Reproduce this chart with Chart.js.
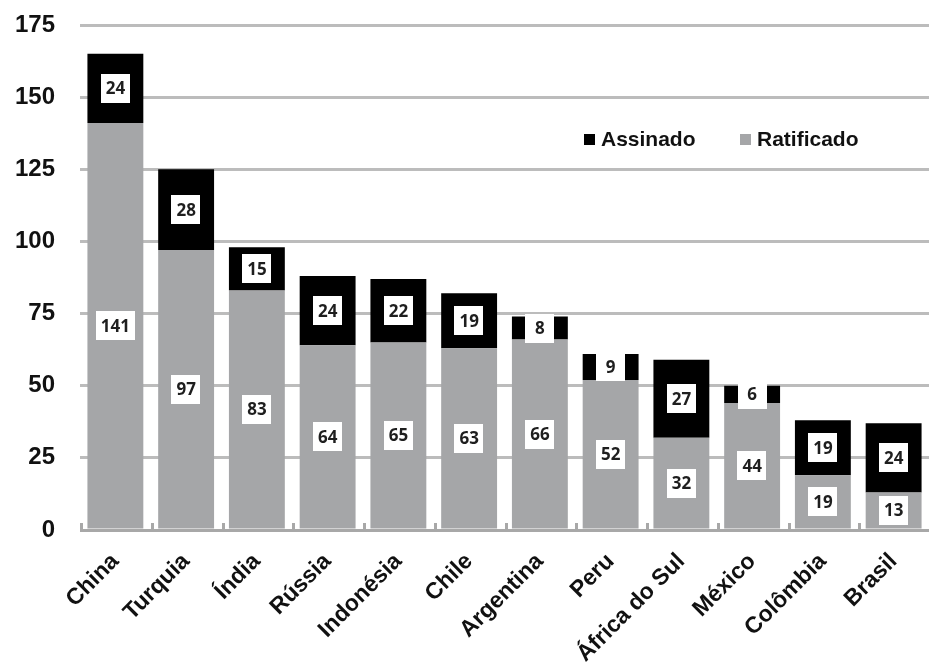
<!DOCTYPE html>
<html>
<head>
<meta charset="utf-8">
<style>
  html, body { margin: 0; padding: 0; background: #ffffff; }
  #wrap { width: 929px; height: 666px; }
</style>
<script src="https://cdn.jsdelivr.net/npm/chart.js@4/dist/chart.umd.min.js"></script>
</head>
<body>
<div id="wrap"><canvas id="c" width="929" height="666"></canvas></div>
<script>
// Countries, ordered by total number of agreements
const paises = ['China', 'Turquia', 'Índia', 'Rússia', 'Indonésia', 'Chile', 'Argentina',
                'Peru', 'África do Sul', 'México', 'Colômbia', 'Brasil'];
// Ratified agreements (bottom segment)
const ratificado = [141, 97, 83, 64, 65, 63, 66, 52, 32, 44, 19, 13];
// Signed but not ratified (top segment)
const assinado = [24, 28, 15, 24, 22, 19, 8, 9, 27, 6, 19, 24];
// Value axis
const eixoMin = 0;
const eixoMax = 175;
const eixoPasso = 25;

const CINZA = '#a5a6a8';
const PRETO = '#000000';
const GRADE = '#bcbcbc';

// White value boxes centred on each segment
const rotulosPlugin = {
  id: 'rotulos',
  afterDatasetsDraw(chart) {
    const ctx = chart.ctx;
    ctx.save();
    ctx.font = 'bold 17px "Noto Sans", "DejaVu Sans", sans-serif';
    ctx.textAlign = 'center';
    ctx.textBaseline = 'middle';
    chart.data.datasets.forEach((ds, di) => {
      const meta = chart.getDatasetMeta(di);
      meta.data.forEach((bar, i) => {
        const txt = String(ds.data[i]);
        const w = Math.max(ctx.measureText(txt).width + 10, 29);
        const h = 29;
        const cy = (bar.y + bar.base) / 2;
        ctx.fillStyle = '#ffffff';
        ctx.fillRect(Math.round(bar.x - w / 2), Math.round(cy - h / 2), Math.round(w), h);
        ctx.fillStyle = '#1e1e1e';
        ctx.fillText(txt, bar.x, cy + 1);
      });
    });
    ctx.restore();
  }
};

// Small category boundary marks rising from the base line
const marcasPlugin = {
  id: 'marcas',
  beforeDatasetsDraw(chart) {
    const x = chart.scales.x;
    const y = chart.scales.y;
    const ctx = chart.ctx;
    const base = y.getPixelForValue(eixoMin);
    ctx.save();
    ctx.strokeStyle = '#a8a8a8';
    ctx.lineWidth = 3;
    for (let i = 0; i <= paises.length; i++) {
      const px = Math.round(x.getPixelForValue(i - 0.5)) + 1.5;
      ctx.beginPath();
      ctx.moveTo(px, base);
      ctx.lineTo(px, base - 7);
      ctx.stroke();
    }
    // base line
    ctx.beginPath();
    ctx.moveTo(chart.chartArea.left, base + 0.5);
    ctx.lineTo(chart.chartArea.right, base + 0.5);
    ctx.stroke();
    ctx.restore();
  }
};

// Legend inside the plot, upper right
const legendaPlugin = {
  id: 'legenda',
  afterDraw(chart) {
    const ctx = chart.ctx;
    const itens = [
      { nome: chart.data.datasets[1].label, cor: PRETO, x: 584 },
      { nome: chart.data.datasets[0].label, cor: CINZA, x: 740 }
    ];
    ctx.save();
    ctx.font = 'bold 21px "Liberation Sans", Arial, sans-serif';
    ctx.textBaseline = 'middle';
    ctx.textAlign = 'left';
    itens.forEach(it => {
      ctx.fillStyle = it.cor;
      ctx.fillRect(it.x, 134, 11, 11);
      ctx.fillStyle = '#111111';
      ctx.fillText(it.nome, it.x + 17, 140);
    });
    ctx.restore();
  }
};

new Chart(document.getElementById('c'), {
  type: 'bar',
  data: {
    labels: paises,
    datasets: [
      { label: 'Ratificado', data: ratificado, backgroundColor: CINZA, borderWidth: 0,
        barPercentage: 0.79, categoryPercentage: 1 },
      { label: 'Assinado', data: assinado, backgroundColor: PRETO, borderWidth: 0,
        barPercentage: 0.79, categoryPercentage: 1 }
    ]
  },
  options: {
    responsive: false,
    animation: false,
    devicePixelRatio: 1,
    layout: { padding: { top: 25, left: 0, right: 0, bottom: 0 } },
    plugins: {
      legend: { display: false },
      tooltip: { enabled: false }
    },
    scales: {
      x: {
        stacked: true,
        offset: true,
        grid: { display: false },
        border: { display: false },
        ticks: {
          autoSkip: false,
          minRotation: 45,
          maxRotation: 45,
          padding: 10,
          color: '#111111',
          font: { family: '"Liberation Sans", Arial, sans-serif', size: 23, weight: 'bold' }
        },
        afterFit(scale) {
          scale.height = 136;
          scale.paddingLeft = 0;
          scale.paddingRight = 0;
        }
      },
      y: {
        stacked: true,
        min: eixoMin,
        max: eixoMax,
        grid: { color: GRADE, lineWidth: 3, drawTicks: false },
        border: { display: false },
        ticks: {
          stepSize: eixoPasso,
          padding: 25,
          color: '#111111',
          font: { family: '"Liberation Sans", Arial, sans-serif', size: 24, weight: 'bold' }
        },
        afterFit(scale) {
          scale.width = 80;
          scale.paddingTop = 0;
          scale.paddingBottom = 0;
        }
      }
    }
  },
  plugins: [marcasPlugin, rotulosPlugin, legendaPlugin]
});
</script>
</body>
</html>
